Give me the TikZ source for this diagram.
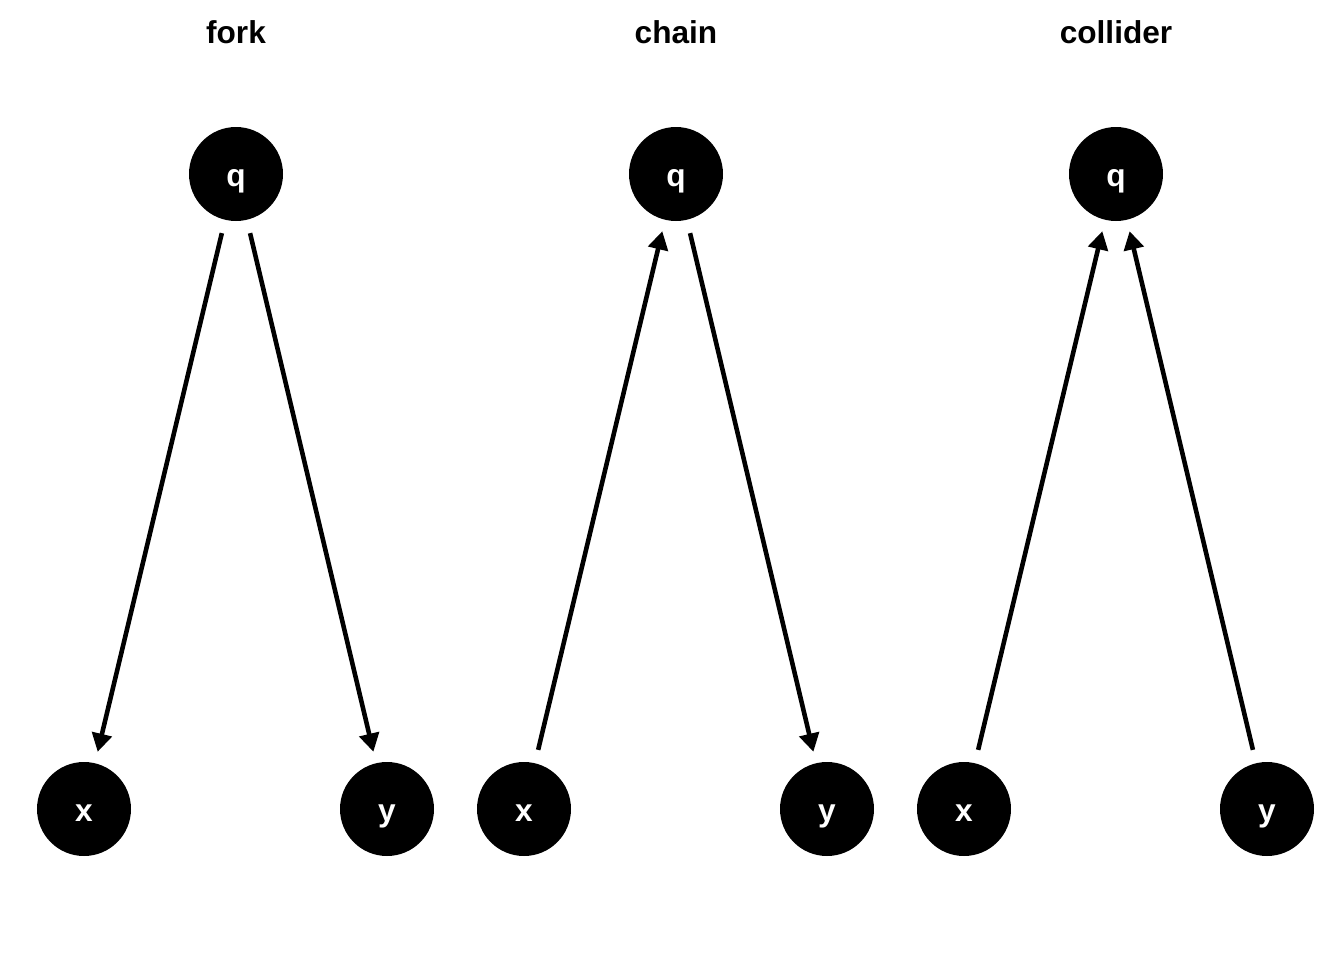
\documentclass[tikz,border=0pt]{standalone}
\usepackage{fontspec}
\setmainfont{Liberation Sans}
\usetikzlibrary{arrows.meta}

\begin{document}
\begin{tikzpicture}[>={Triangle[length=5.2pt,width=5.6pt]}, line width=1.3pt,
  dag/.style={circle,fill=black,minimum size=0.94cm,inner sep=0pt,text=white,
    text height=1.3ex,text depth=0pt,font=\fontsize{9}{10}\bfseries},
  edge/.style={->,shorten <=0.115cm,shorten >=0.095cm},
  title/.style={font=\fontsize{9}{10}\bfseries}]
  \useasboundingbox (0,0) rectangle (13.44,9.6);

  \foreach \t/\cx [count=\i] in {fork/2.36,chain/6.76,collider/11.16}{
    \node[title] (t\i) at (\cx,9.28) {\t};
    \node[dag] (q\i) at (\cx,7.86) {q};
    \node[dag] (x\i) at (\cx-1.52,1.51) {x};
    \node[dag] (y\i) at (\cx+1.51,1.51) {y};
  }

  % fork
  \draw[edge] (q1) -- (x1);
  \draw[edge] (q1) -- (y1);
  % chain
  \draw[edge] (x2) -- (q2);
  \draw[edge] (q2) -- (y2);
  % collider
  \draw[edge] (x3) -- (q3);
  \draw[edge] (y3) -- (q3);
\end{tikzpicture}
\end{document}
